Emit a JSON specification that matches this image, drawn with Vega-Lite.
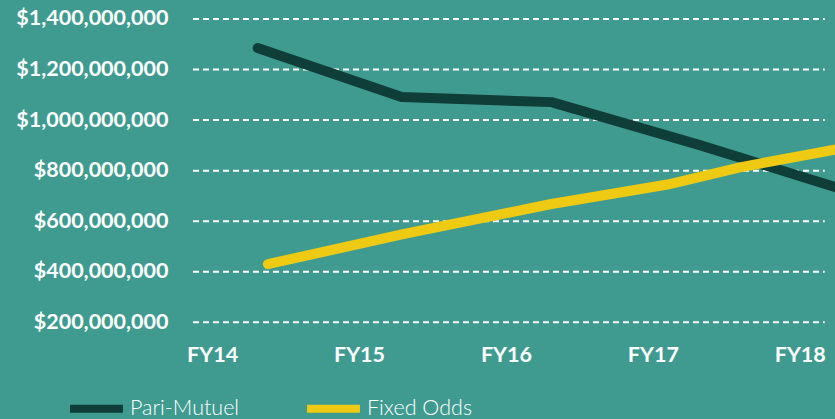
{
  "$schema": "https://vega.github.io/schema/vega-lite/v6.json",
  "width": 642,
  "height": 340,
  "autosize": "none",
  "padding": {"left": 193, "top": 0, "right": 0, "bottom": 79},
  "background": "#3f9b90",
  "config": {"view": {"stroke": null}, "font": "Lato"},
  "datasets": {
    "grid": [
      {"value": 200000000}, {"value": 400000000}, {"value": 600000000},
      {"value": 800000000}, {"value": 1000000000}, {"value": 1200000000},
      {"value": 1400000000}
    ],
    "sales": [
      {"series": "Pari-Mutuel", "fy": 14.31, "value": 1285000000},
      {"series": "Pari-Mutuel", "fy": 15.29, "value": 1091000000},
      {"series": "Pari-Mutuel", "fy": 16.31, "value": 1071000000},
      {"series": "Pari-Mutuel", "fy": 17.32, "value": 901000000},
      {"series": "Pari-Mutuel", "fy": 18.33, "value": 719000000},
      {"series": "Fixed Odds", "fy": 14.38, "value": 430000000},
      {"series": "Fixed Odds", "fy": 15.3, "value": 549000000},
      {"series": "Fixed Odds", "fy": 16.3, "value": 667000000},
      {"series": "Fixed Odds", "fy": 17.1, "value": 745000000},
      {"series": "Fixed Odds", "fy": 17.6, "value": 814000000},
      {"series": "Fixed Odds", "fy": 18.33, "value": 893000000}
    ]
  },
  "layer": [
    {
      "data": {"name": "grid"},
      "mark": {"type": "rule", "color": "#ffffff", "strokeWidth": 2, "strokeDash": [6, 4]},
      "encoding": {
        "x": {"datum": 13.87, "type": "quantitative", "scale": {"domain": [13.87, 18.24], "nice": false, "zero": false},
          "axis": {"values": [14, 15, 16, 17, 18], "labelExpr": "'FY' + datum.value", "grid": false, "domain": false, "ticks": false, "labelPadding": 15, "labelFontSize": 21.5, "labelFontWeight": "bold", "labelColor": "#ffffff", "title": null, "labelBaseline": "middle", "labelFlush": false, "labelOverlap": false}},
        "x2": {"datum": 18.17},
        "y": {"field": "value", "type": "quantitative", "scale": {"domain": [130000000, 1475000000], "nice": false, "zero": false},
          "axis": {"values": [200000000, 400000000, 600000000, 800000000, 1000000000, 1200000000, 1400000000], "format": "$,.0f", "grid": false, "domain": false, "ticks": false, "labelPadding": 25, "labelFontSize": 21.5, "labelFontWeight": "bold", "labelColor": "#ffffff", "title": null, "labelOverlap": false}}
      }
    },
    {
      "data": {"name": "sales"},
      "mark": {"type": "line", "strokeWidth": 10, "strokeCap": "round", "strokeJoin": "round", "clip": true},
      "encoding": {
        "x": {"field": "fy", "type": "quantitative"},
        "y": {"field": "value", "type": "quantitative"},
        "color": {"field": "series", "type": "nominal",
          "scale": {"domain": ["Pari-Mutuel", "Fixed Odds"], "range": ["#0f3d37", "#eeca12"]},
          "legend": {"orient": "none", "legendX": -127, "legendY": 378, "direction": "horizontal", "title": null, "symbolType": "stroke", "symbolSize": 2800, "symbolStrokeWidth": 8, "labelFontSize": 21.5, "labelFontWeight": 300, "labelColor": "#ffffff", "labelOffset": 3, "columnPadding": 51, "labelFont": "Lato"}
        }
      }
    }
  ]
}
